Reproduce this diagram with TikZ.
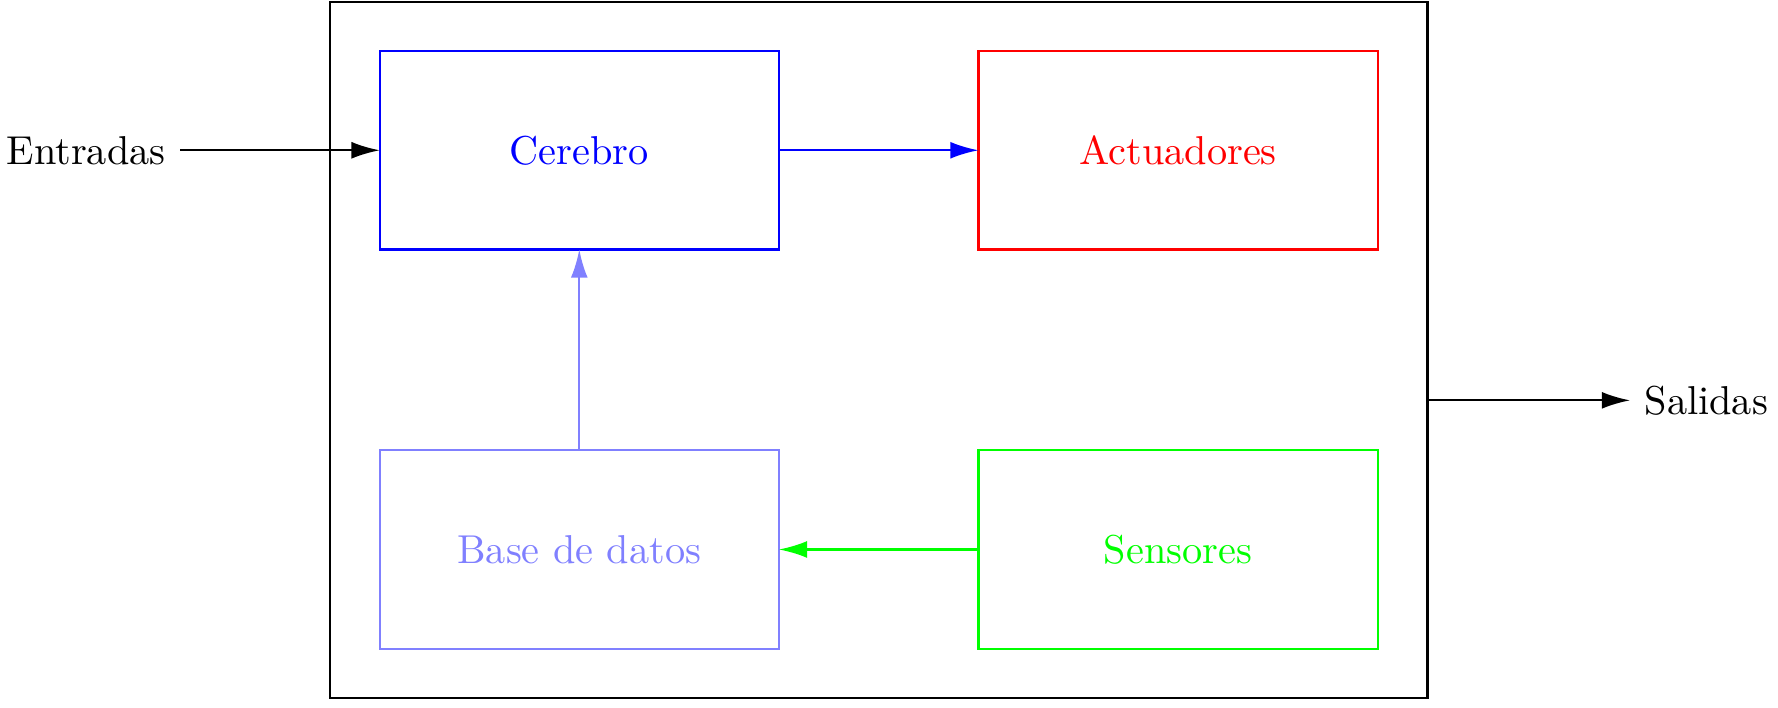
\documentclass[tikz,border=0pt]{standalone}
\usepackage{amsmath,amssymb}
\usepackage{tikz}
\usetikzlibrary{arrows.meta}

\begin{document}
\begin{tikzpicture}[line width=0.55pt,
		bloque/.style={draw,outer sep=0pt,minimum width=3.48cm,minimum height=1.73cm},
		flecha/.style={-{Latex[length=7pt,width=4.2pt]}}
	]
		\useasboundingbox (0,0) rectangle (15.5,-6.17);
		\node[draw,minimum width=9.57cm,minimum height=6.07cm,inner sep=0pt,outer sep=0pt] (sistema) at (7.66,-3.05) {};
		\node[bloque,blue] (cerebro) at (5.05,-1.31) {Cerebro};
		\node[bloque,red] (actuadores) at (10.27,-1.31) {Actuadores};
		\node[bloque,blue!50] (base) at (5.05,-4.79) {Base de datos};
		\node[bloque,green] (sensores) at (10.27,-4.79) {Sensores};
		\node[anchor=east] (entradas) at (1.57,-1.31) {Entradas};
		\node[anchor=west] (salidas) at (14.21,-3.49) {Salidas};
		\draw[flecha] (entradas) -- (cerebro);
		\draw[flecha,blue] (cerebro) -- (actuadores);
		\draw[flecha,blue!50] (base) -- (cerebro);
		\draw[flecha,green] (sensores) -- (base);
		\draw[flecha] (sistema.east |- salidas) -- (salidas);
	\end{tikzpicture}
\end{document}
